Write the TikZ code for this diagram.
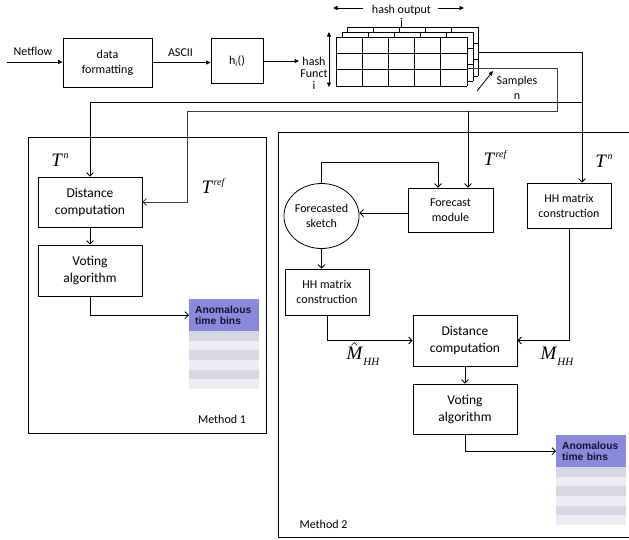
\documentclass[tikz,border=0pt]{standalone}
\usepackage{fontspec}
\setmainfont{Carlito}
\newfontfamily\tnr{Liberation Serif}
\newfontfamily\arl{Liberation Sans}
\usetikzlibrary{arrows.meta,shapes.geometric}
\definecolor{hdrc}{RGB}{138,138,220}
\definecolor{stdark}{RGB}{214,216,228}
\definecolor{stlight}{RGB}{236,236,242}
\definecolor{hdrtext}{RGB}{20,20,45}
\newcommand{\Tlab}[1]{{\tnr\itshape T\kern1.5pt\raisebox{0.42em}{\fontsize{10}{10}\selectfont #1}}}
\newcommand{\Msub}{{\tnr\itshape M\kern1pt\raisebox{-0.3em}{\fontsize{11}{11}\selectfont HH}}}
\newcommand{\stripes}[2]{\foreach \k/\c in {0/stdark,1/stlight,2/stdark,3/stlight,4/stdark,5/stlight}{\fill[\c] (#1,{#2+\k*9.67}) rectangle ({#1+70},{#2+(\k+1)*9.67});}}
\begin{document}
\begin{tikzpicture}[x=1pt,y=-1pt,
  every node/.style={inner sep=0pt},
  box/.style={draw, line width=0.8pt, align=center, font=\fontsize{12}{15}\selectfont},
  bigbox/.style={draw, line width=0.8pt, align=center, font=\fontsize{13.5}{17}\selectfont},
  lbl/.style={font=\fontsize{12}{13}\selectfont, align=center},
  ln/.style={line width=0.8pt},
  arr/.style={line width=0.8pt, -{Straight Barb[length=3.5pt,width=7pt]}},
  tri/.style={line width=0.8pt, -{Triangle[length=4.5pt,width=4pt]}},
  dtri/.style={line width=0.8pt, {Triangle[length=4.5pt,width=4pt]}-{Triangle[length=4.5pt,width=4pt]}},
  mlbl/.style={font=\fontsize{19}{19}\selectfont},
  hdr/.style={fill=hdrc, minimum width=70pt, minimum height=32pt, text width=58pt, inner xsep=6pt, align=left, font=\arl\bfseries\fontsize{10.3}{11.7}\selectfont, text=hdrtext},
]
\useasboundingbox (0,0) rectangle (629,539);

% frames
\draw[ln] (28,137) rectangle (266,433);
\draw[ln] (629,132) -- (278,132) -- (278,537) -- (629,537);

% top row
\node[box, minimum width=89pt, minimum height=49pt] (df) at (107.5,62.5) {data\\formatting};
\node[box, minimum width=52pt, minimum height=45pt] (hf) at (237,61) {h\textsubscript{i}()};
\coordinate (nf) at (7,62);
\node[lbl] (nfl) at (33,51) {Netflow};
\node[lbl] (asc) at (180.5,53) {ASCII};
\node[lbl, font=\fontsize{12}{12}\selectfont] (hl) at (314,73) {hash\\Funct\\i};
\coordinate (hend) at (299,62);
\draw[tri] (nf) -- (nf -| df.west);
\draw[tri] (df.east) -- (df.east -| hf.west);
\draw[tri] (hf.east) -- (hf.east -| hend);

% hash grid (three layers)
\foreach \dx/\dy in {11/-10, 6/-5, 0/0}{
  \begin{scope}[shift={(\dx,\dy)}]
    \fill[white] (336,37) rectangle (467,86);
    \foreach \i in {0,...,5}{\draw[ln] ({336+\i*26.2},37) -- ({336+\i*26.2},86);}
    \foreach \j in {0,...,3}{\draw[ln] (336,{37+\j*16.33}) -- (467,{37+\j*16.33});}
  \end{scope}
}
\coordinate (va) at (329,32);
\coordinate (vb) at (329,87);
\draw[dtri] (va) -- (vb);
\node[lbl] (ho) at (401.5,16.5) {hash output\\j};
\coordinate (hoa) at (363,8);
\coordinate (hob) at (333,8);
\coordinate (hoc) at (438,8);
\coordinate (hod) at (464,8);
\draw[tri] (hoa) -- (hob);
\draw[tri] (hoc) -- (hod);
\node[lbl, font=\fontsize{12}{15}\selectfont] (smp) at (517,87.5) {Samples\\n};
\coordinate (sa) at (477,91);
\coordinate (sb) at (493,71);
\draw[tri] (sa) -- (sb);

% method 1
\node[bigbox, minimum width=104pt, minimum height=50pt] (dc1) at (90,202) {Distance\\computation};
\node[bigbox, minimum width=104pt, minimum height=51pt] (va1) at (90,270.5) {Voting\\algorithm};
\node[hdr, anchor=north west] (tab1) at (189,299) {Anomalous\\time bins};
\stripes{189}{331}
\node[mlbl] (tn1) at (60,160) {\Tlab{n}};
\node[mlbl] (tr1) at (213,186) {\Tlab{ref}};
\node[lbl] (m1l) at (222,419) {Method 1};

% method 2
\node[box, minimum width=85pt, minimum height=44pt] (fm) at (450.5,210) {Forecast\\module};
\node[draw, ellipse, line width=0.8pt, minimum width=73pt, minimum height=65pt, align=center, font=\fontsize{12}{15}\selectfont] (fs) at (321.5,216) {Forecasted\\sketch};
\node[box, minimum width=84pt, minimum height=45pt] (hh2) at (569,205.5) {HH matrix\\construction};
\node[box, minimum width=84pt, minimum height=46pt] (hh1) at (327,292) {HH matrix\\construction};
\node[bigbox, minimum width=104pt, minimum height=51pt] (dc2) at (465,340.5) {Distance\\computation};
\node[bigbox, minimum width=104pt, minimum height=50pt] (va2) at (465,409) {Voting\\algorithm};
\node[hdr, anchor=north west] (tab2) at (556,435) {Anomalous\\time bins};
\stripes{556}{467}
\node[mlbl] (tr2) at (495,158) {\Tlab{ref}};
\node[mlbl] (tn2) at (604,161) {\Tlab{n}};
\node[mlbl] (mh) at (363,356) {\Msub};
\draw[line width=0.6pt] ([xshift=5pt,yshift=1.5pt]mh.north west) -- ++(2.8pt,2.8pt) -- ++(2.8pt,-2.8pt);
\node[mlbl] (mm) at (557,356) {\Msub};
\node[lbl] (m2l) at (323.5,524) {Method 2};

% connectors from grid
\coordinate (g3e) at (478,52);
\coordinate (g1e) at (467,68);
\coordinate (tnc) at (582,102);
\coordinate (trc) at (468,111);
\draw[ln] (g3e) -- (582,52) -- (tnc);
\draw[arr] (tnc) -| (dc1.north);
\draw[arr] (tnc) -- (tnc |- hh2.north);
\draw[ln, black!75] (g1e) -- (557,68) -- (557,111) -- (trc);
\draw[arr, black!75] (trc) -- (187,111) |- (dc1.east);
\draw[arr] (trc) -- (trc |- fm.north);

% method 1 arrows
\draw[arr] (dc1.south) -- (va1.north);
\draw[arr] (va1.south) |- (tab1.west);

% method 2 arrows
\draw[arr] (fs.north) -- ++(0,-21) -| ([xshift=-12.5pt]fm.north);
\draw[arr] ([yshift=-3pt]fm.west) -- ([yshift=-3pt]fm.west -| fs.east);
\draw[arr] (fs.south) -- (fs.south |- hh1.north);
\draw[arr] (hh1.south) |- (dc2.west);
\draw[arr] (hh2.south) |- (dc2.east);
\draw[arr] (dc2.south) -- (va2.north);
\draw[arr] (va2.south) |- (tab2.west);
\end{tikzpicture}
\end{document}
